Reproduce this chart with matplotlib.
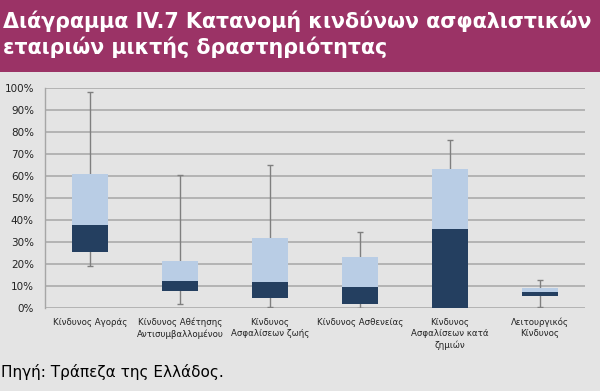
import matplotlib
matplotlib.use("Agg")
import matplotlib.pyplot as plt
from matplotlib.patches import Rectangle
import numpy as np

categories = ["Κίνδυνος Αγοράς",
              "Κίνδυνος Αθέτησης\nΑντισυμβαλλομένου",
              "Κίνδυνος\nΑσφαλίσεων ζωής",
              "Κίνδυνος Ασθενείας",
              "Κίνδυνος\nΑσφαλίσεων κατά\nζημιών",
              "Λειτουργικός\nΚίνδυνος"]
mins = [19.0, 1.7, 0.3, 0.0, 0.0, 0.6]
q1 = [25.5, 7.8, 4.4, 2.0, 0.0, 5.6]
medians = [37.7, 12.5, 11.7, 9.7, 35.9, 7.5]
q3 = [60.7, 21.5, 31.8, 23.1, 63.3, 9.0]
maxs = [98.0, 60.5, 65.0, 34.5, 76.2, 12.8]
yticks = [0, 10, 20, 30, 40, 50, 60, 70, 80, 90, 100]
ytick_labels = [f"{v}%" for v in yticks]

title_lines = ["Διάγραμμα IV.7 Κατανομή κινδύνων ασφαλιστικών",
               "εταιριών μικτής δραστηριότητας"]
source = "Πηγή: Τράπεζα της Ελλάδος."

bg = "#e4e4e4"
band = "#9b3366"
dark = "#243f60"
light = "#b9cde5"
grid = "#a6a6a6"
whisk = "#7f7f7f"

W, H = 600, 391
fig = plt.figure(figsize=(W/100, H/100), dpi=100, facecolor=bg)
fig.patches.append(Rectangle((0, 1 - 72/H), 1, 72/H, transform=fig.transFigure,
                             facecolor=band, edgecolor="none", zorder=0))
for line, base in zip(title_lines, [28, 54]):
    fig.text(3/W, 1 - base/H, line, color="white", fontsize=14.85, fontweight="bold",
             family="DejaVu Sans", va="baseline", ha="left")
fig.text(1/W, 1 - 372/H, source, color="black", fontsize=11, va="center", ha="left",
         family="DejaVu Sans")

ax = fig.add_axes([45/W, 1 - 308/H, 540/W, 220/H])
ax.set_facecolor(bg)
x = np.arange(len(categories))
ax.set_xlim(-0.5, len(categories) - 0.5)
ax.set_ylim(0, 100)

ax.vlines(x, mins, maxs, color=whisk, lw=1, zorder=2)
ax.hlines(mins, x - 0.03, x + 0.03, color=whisk, lw=1, zorder=2)
ax.hlines(maxs, x - 0.03, x + 0.03, color=whisk, lw=1, zorder=2)
lower = np.array(medians) - np.array(q1)
upper = np.array(q3) - np.array(medians)
ax.bar(x, lower, bottom=q1, width=0.41, color=dark, zorder=3)
ax.bar(x, upper, bottom=medians, width=0.41, color=light, zorder=3)

ax.set_yticks(yticks)
ax.set_yticklabels(ytick_labels, fontsize=7.5, color="#222222")
ax.set_xticks(x)
ax.set_xticklabels(categories, fontsize=6.2, color="#222222", linespacing=1.3)
ax.tick_params(axis="both", length=0)
ax.tick_params(axis="y", pad=8)
ax.tick_params(axis="x", pad=7)
ax.yaxis.grid(True, color=grid, lw=1.1, zorder=0)
ax.set_axisbelow(True)
for s in ["top", "right", "bottom"]:
    ax.spines[s].set_visible(False)
ax.spines["left"].set_color(grid)
ax.spines["left"].set_linewidth(1)

fig.savefig("out.png", dpi=100, facecolor=bg)
